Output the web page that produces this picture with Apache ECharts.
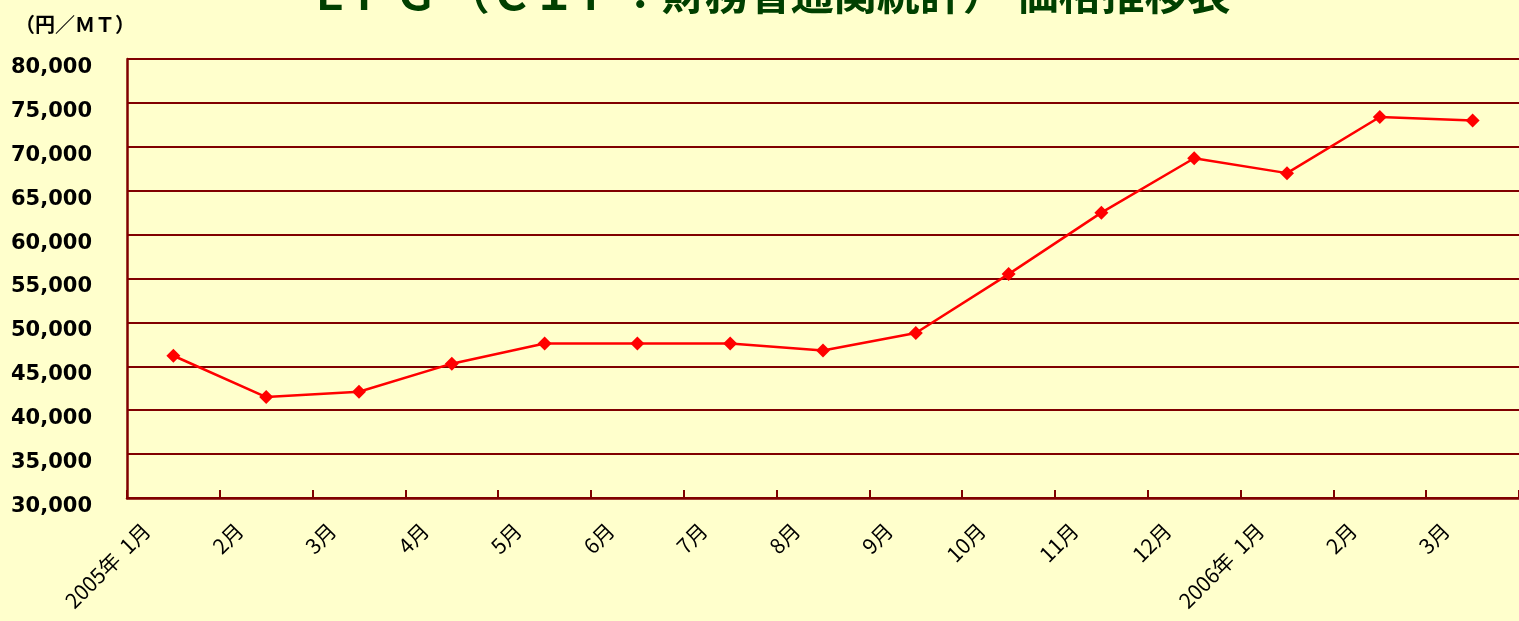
<!DOCTYPE html>
<html>
<head>
<meta charset="utf-8">
<script src="https://cdn.jsdelivr.net/npm/echarts@6/dist/echarts.min.js"></script>
<style>
html,body{margin:0;padding:0;background:#ffffcc;}
#main{width:1519px;height:621px;}
</style>
</head>
<body>
<div id="main"></div>
<script>
var months = ['2005年  1月','2月','3月','4月','5月','6月','7月','8月','9月','10月','11月','12月','2006年  1月','2月','3月'];
var prices = [46200, 41500, 42100, 45300, 47600, 47600, 47600, 46800, 48800, 55500, 62500, 68700, 67000, 73400, 73000];
var yMin = 30000, yMax = 80000, yStep = 5000;

var darkRed = '#800000';
var option = {
    backgroundColor: '#ffffcc',
    animation: false,
    title: {
        text: 'ＬＰＧ （ＣＩＦ：財務省通関統計） 価格推移表',
        left: 303,
        top: -33,
        textStyle: {
            color: '#004000',
            fontSize: 43,
            fontWeight: 'bold',
            fontFamily: 'Noto Sans CJK JP'
        }
    },
    graphic: [{
        type: 'text',
        left: 15,
        top: 14,
        style: {
            text: '（円／ＭＴ）',
            fill: '#000',
            font: 'bold 20px "Noto Sans CJK JP"'
        }
    }],
    grid: { left: 127, top: 59, width: 1395, height: 439 },
    xAxis: {
        type: 'category',
        data: months,
        boundaryGap: true,
        axisLine: { lineStyle: { color: darkRed, width: 2.5 } },
        axisTick: { show: true, alignWithLabel: false, inside: true, length: 8, lineStyle: { color: darkRed, width: 2 } },
        axisLabel: {
            interval: 0,
            rotate: 45,
            margin: 2,
            color: '#000',
            fontSize: 21,
            fontFamily: 'Noto Sans CJK JP',
            padding: [0, 38, 0, 0]
        }
    },
    yAxis: {
        type: 'value',
        min: yMin,
        max: yMax,
        interval: yStep,
        axisLine: { show: true, lineStyle: { color: darkRed, width: 2.5 } },
        axisTick: { show: true, inside: true, length: 8, lineStyle: { color: darkRed, width: 2 } },
        splitLine: { lineStyle: { color: darkRed, width: 2 } },
        axisLabel: {
            margin: 35,
            color: '#000',
            fontSize: 21,
            fontWeight: 'bold',
            fontFamily: 'DejaVu Sans',
            verticalAlign: 'top',
            lineHeight: 17,
            formatter: function (v) { return v.toLocaleString('en-US'); }
        }
    },
    series: [{
        type: 'line',
        data: prices,
        symbol: 'diamond',
        symbolSize: 14,
        itemStyle: { color: '#ff0000' },
        lineStyle: { color: '#ff0000', width: 2.5 }
    }]
};
var myChart = echarts.init(document.getElementById('main'));
myChart.setOption(option);
</script>
</body>
</html>
